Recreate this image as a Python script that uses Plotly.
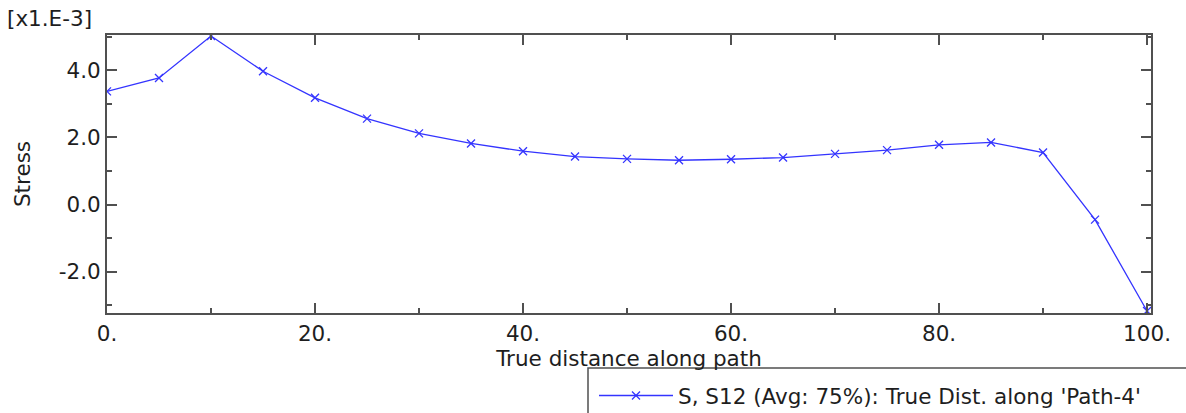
import plotly.graph_objects as go

# Path results: shear stress S12 (x1.E-3) sampled along Path-4
distance = [0, 5, 10, 15, 20, 25, 30, 35, 40, 45, 50, 55, 60, 65, 70, 75, 80, 85, 90, 95, 100]
stress_s12 = [3.37, 3.77, 5.02, 3.97, 3.18, 2.56, 2.12, 1.82, 1.59, 1.43, 1.36, 1.32,
              1.35, 1.40, 1.51, 1.62, 1.78, 1.85, 1.55, -0.45, -3.17]
series_name = "S, S12 (Avg: 75%): True Dist. along 'Path-4'"

x_tick_vals = [0, 20, 40, 60, 80, 100]
x_tick_text = ["0.", "20.", "40.", "60.", "80.", "100."]
y_tick_vals = [-2, 0, 2, 4]
y_tick_text = ["-2.0", "0.0", "2.0", "4.0"]

W, H = 1186, 413
ML, MR, MT, MB = 107, 35, 35, 100
PW, PH = W - ML - MR, H - MT - MB


def px_x(p):
    return (p - ML) / PW


def px_y(p):
    return (H - MB - p) / PH


FONT = "DejaVu Sans"
FS = 21.5
TXT = "#1e1e1e"
AX = "#505050"
BLUE = "#3434ff"

fig = go.Figure()
fig.add_trace(go.Scatter(
    x=distance, y=stress_s12, mode="lines+markers", name=series_name,
    line=dict(color=BLUE, width=1.3),
    marker=dict(symbol="x-thin", size=8, line=dict(color=BLUE, width=1.3), color=BLUE),
))

axis_common = dict(
    showline=True, linecolor=AX, linewidth=1.8, mirror="ticks",
    ticks="inside", ticklen=10, tickwidth=1.5, tickcolor=AX,
    showgrid=False, zeroline=False,
    tickfont=dict(family=FONT, size=FS, color=TXT),
)

fig.update_xaxes(
    range=[0, 100.38], tickmode="array", tickvals=x_tick_vals, ticktext=x_tick_text,
    minor=dict(dtick=10, tick0=0, ticks="inside", ticklen=5, tickwidth=1.5, tickcolor=AX),
    title=dict(text="True distance along path", font=dict(family=FONT, size=FS, color=TXT), standoff=4),
    **axis_common,
)
fig.update_yaxes(
    range=[-3.23, 5.05], tickmode="array", tickvals=y_tick_vals, ticktext=y_tick_text,
    minor=dict(dtick=1, tick0=0, ticks="inside", ticklen=5, tickwidth=1.5, tickcolor=AX),
    title=dict(text="Stress", font=dict(family=FONT, size=FS, color=TXT), standoff=22),
    **axis_common,
)

# scale factor label above the y axis
fig.add_annotation(
    text="[x1.E-3]", xref="paper", yref="paper", x=px_x(5), y=px_y(19),
    xanchor="left", yanchor="middle", showarrow=False,
    font=dict(family=FONT, size=FS, color=TXT),
)

# legend frame running off the lower right corner
fig.add_shape(
    type="rect", xref="paper", yref="paper",
    x0=px_x(588), x1=px_x(1200), y0=px_y(368), y1=px_y(425),
    line=dict(color=AX, width=1.5), fillcolor="white", layer="below",
)

fig.update_layout(
    width=W, height=H,
    margin=dict(l=ML, r=MR, t=MT, b=MB, autoexpand=False),
    paper_bgcolor="white", plot_bgcolor="white",
    showlegend=True,
    legend=dict(
        x=px_x(594), y=px_y(375), xanchor="left", yanchor="top",
        bgcolor="rgba(0,0,0,0)", borderwidth=0,
        font=dict(family=FONT, size=FS, color=TXT),
        itemwidth=74,
    ),
)

fig.write_html("out.html")
